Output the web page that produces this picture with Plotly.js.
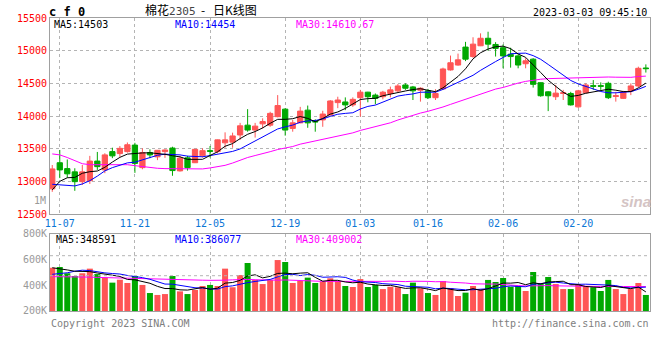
<!DOCTYPE html>
<html><head><meta charset="utf-8">
<script src="https://cdn.plot.ly/plotly-3.0.1.min.js"></script>
<style>html,body{margin:0;padding:0;background:#fff}#chart{width:660px;height:360px}</style>
</head><body><div id="chart"></div>
<script>
// ---- data ----
const dates = ['11-04','11-07','11-08','11-09','11-10','11-11','11-14','11-15','11-16','11-17','11-18','11-21','11-22','11-23','11-24','11-25','11-28','11-29','11-30','12-01','12-02','12-05','12-06','12-07','12-08','12-09','12-12','12-13','12-14','12-15','12-16','12-19','12-20','12-21','12-22','12-23','12-26','12-27','12-28','12-29','12-30','01-03','01-04','01-05','01-06','01-09','01-10','01-11','01-12','01-13','01-16','01-17','01-18','01-19','01-20','01-30','01-31','02-01','02-02','02-03','02-06','02-07','02-08','02-09','02-10','02-13','02-14','02-15','02-16','02-17','02-20','02-21','02-22','02-23','02-24','02-27','02-28','03-01','03-02','03-03'];
const tickDates = ['11-07','11-21','12-05','12-19','01-03','01-16','02-06','02-20'];
const priceTicks = [12500,13000,13500,14000,14500,15000,15500];
const volTicks = [200,400,600,800];
const volTickText = ['200K','400K','600K','800K'];

const open = [12885,13285,13195,13145,12995,13010,13310,13175,13455,13425,13455,13555,13210,13440,13375,13455,13510,13160,13360,13285,13390,13470,13455,13590,13600,13710,13860,13785,13880,13860,13990,14105,13810,13895,14090,13920,13940,14015,14205,14215,14170,14280,14365,14320,14295,14345,14385,14475,14445,14395,14385,14280,14415,14705,14780,15055,14910,15075,15190,15095,15045,14945,14920,14800,14870,14510,14370,14295,14345,14345,14140,14355,14465,14465,14500,14300,14270,14385,14460,14735];
const high = [13250,13480,13335,13200,13250,13390,13450,13430,13515,13540,13595,13590,13505,13490,13480,13490,13530,13390,13390,13495,13505,13540,13640,13750,13745,13895,14105,13895,13965,14065,14320,14120,13940,14140,14160,13950,14080,14245,14295,14285,14285,14400,14370,14345,14385,14450,14490,14500,14460,14440,14415,14410,14740,14925,14955,15135,15205,15265,15290,15130,15095,15045,14945,14885,14885,14515,14380,14475,14400,14370,14400,14500,14550,14515,14525,14370,14385,14500,14755,14790];
const low = [12840,13050,13055,12855,12945,12960,13175,13125,13355,13375,13440,13130,13185,13355,13325,13360,13085,13150,13165,13280,13365,13365,13430,13515,13515,13635,13760,13670,13810,13835,13980,13700,13760,13890,13820,13760,13835,14010,14120,14090,14140,13990,14210,14180,14255,14285,14365,14400,14245,14220,14260,14245,14405,14695,14770,14840,14890,15070,15000,14910,14730,14740,14730,14730,14435,14295,14075,14245,14245,14160,14125,14350,14400,14400,14260,14220,14260,14320,14435,14665];
const close = [13190,13175,13115,12995,13145,13310,13225,13405,13390,13505,13560,13275,13440,13405,13475,13480,13165,13355,13210,13490,13470,13460,13635,13635,13695,13850,13785,13845,13915,14040,14160,13785,13895,14075,13895,13910,14030,14230,14245,14170,14255,14365,14295,14270,14365,14400,14460,14425,14385,14425,14280,14345,14720,14815,14860,14870,15100,15190,15100,15035,14920,14910,14780,14845,14485,14310,14310,14350,14355,14170,14385,14475,14455,14455,14280,14310,14370,14460,14730,14725];

const ma5 = [12870,13000,13055,13060,13124,13148,13158,13215,13295,13367,13417,13428,13435,13437,13431,13414,13392,13375,13336,13339,13337,13396,13452,13537,13578,13654,13720,13762,13818,13888,13949,13949,13959,13992,13963,13913,13962,14029,14062,14116,14186,14252,14266,14271,14310,14338,14357,14383,14405,14418,14394,14372,14431,14517,14605,14723,14874,14968,15025,15060,15069,15031,14949,14898,14788,14666,14547,14461,14363,14300,14315,14348,14368,14387,14410,14395,14374,14375,14430,14503];
const ma10 = [12955,12950,12940,12930,12960,13010,13080,13160,13210,13245,13283,13293,13325,13366,13399,13416,13410,13405,13386,13385,13376,13394,13414,13437,13458,13496,13558,13607,13678,13733,13802,13834,13861,13905,13925,13931,13956,13994,14027,14040,14050,14107,14147,14167,14213,14262,14305,14324,14338,14364,14366,14365,14407,14461,14511,14559,14623,14699,14771,14833,14896,14952,14959,14962,14924,14868,14789,14705,14631,14544,14491,14447,14415,14375,14355,14355,14361,14372,14409,14454];
const ma30 = [13420,13405,13365,13315,13270,13255,13255,13255,13260,13265,13255,13240,13225,13210,13200,13195,13195,13190,13185,13185,13190,13205,13220,13245,13280,13325,13365,13395,13420,13454,13487,13507,13533,13569,13594,13614,13641,13669,13697,13719,13742,13779,13807,13836,13866,13896,13939,13975,14014,14045,14072,14102,14138,14178,14217,14251,14294,14339,14379,14412,14437,14475,14504,14530,14549,14563,14572,14576,14580,14580,14584,14588,14593,14599,14597,14594,14591,14592,14604,14610.67];

const volumeK = [537,543,494,473,494,530,488,460,421,444,418,473,403,340,325,332,473,353,332,364,395,403,395,530,385,480,574,442,410,442,597,582,418,434,460,418,428,455,434,395,387,449,387,403,371,389,385,332,421,377,340,325,434,379,317,343,395,371,442,426,457,389,395,356,504,410,465,410,371,371,410,395,385,356,442,371,332,371,418,325];
const vma5 = [537,530,520,510,508,507,496,489,479,469,446,443,432,416,392,375,375,365,363,371,383,369,378,417,422,439,473,482,458,470,493,495,490,495,498,462,432,439,439,426,420,424,410,404,399,400,387,376,380,381,371,359,379,371,359,360,374,361,374,395,418,417,422,405,420,411,426,429,432,405,405,391,386,383,398,390,377,374,387,348.591];
const vma10 = [486,490,498,510,518,515,505,497,492,488,477,470,460,447,430,410,409,398,389,381,379,372,371,390,396,411,421,430,438,446,466,484,486,476,484,478,463,464,467,462,441,428,425,422,413,410,406,393,392,390,385,373,378,375,370,365,366,370,372,377,389,395,391,389,408,415,422,425,418,413,408,409,408,408,402,398,384,380,385,386.077];
const vma30 = [468,468,467,466,465,464,462,460,458,457,456,456,455,452,450,448,446,444,442,441,440,439,438,440,443,446,446,444,441,438,440,442,439,438,437,433,431,431,431,430,429,428,427,429,431,433,430,429,432,433,431,428,429,424,422,418,412,409,410,410,405,399,398,395,397,397,398,396,394,393,394,392,392,391,393,392,391,392,392,390];

// ---- styling ----
const RED = '#ff5555', GREEN = '#00a800';
const MONO = 'DejaVu Sans Mono, monospace';
const CJK = 'Noto Sans CJK SC, sans-serif';
const GRID = '#b4b4b4', BORDER = '#a0a0a0';
const volColors = close.map((c, i) => c >= open[i] ? RED : GREEN);

function maLine(y, color, xa, ya) {
  return {type:'scatter', mode:'lines', x:dates, y:y, xaxis:xa, yaxis:ya,
          line:{color:color, width:1}, hoverinfo:'skip', showlegend:false};
}

const traces = [
  {type:'candlestick', x:dates, open:open, high:high, low:low, close:close,
   xaxis:'x', yaxis:'y', whiskerwidth:0,
   increasing:{line:{color:RED, width:1}, fillcolor:RED},
   decreasing:{line:{color:GREEN, width:1}, fillcolor:GREEN},
   hoverinfo:'skip', showlegend:false},
  maLine(ma30, '#ff00ff', 'x', 'y'),
  maLine(ma10, '#0000ff', 'x', 'y'),
  maLine(ma5, '#000000', 'x', 'y'),
  {type:'bar', x:dates, y:volumeK, xaxis:'x2', yaxis:'y2', width:0.8,
   marker:{color:volColors, line:{width:0}}, hoverinfo:'skip', showlegend:false},
  maLine(vma30, '#ff00ff', 'x2', 'y2'),
  maLine(vma10, '#0000ff', 'x2', 'y2'),
  maLine(vma5, '#000000', 'x2', 'y2')
];

function ann(text, x, y, xanchor, color, size, family) {
  return {text:text, x:x, y:y, xref:'paper', yref:'paper', xanchor:xanchor, yanchor:'middle',
          showarrow:false, borderpad:0, font:{family:family || MONO, size:size || 10, color:color || '#000'}};
}

const NB = '\u00a0';
const titleText = '棉花<span style="font-family:DejaVu Sans Mono;font-size:11px;color:#444">2305</span>' +
                  NB + NB + '-' + NB + NB + NB + '日K线图';

const layout = {
  width:660, height:360,
  margin:{l:50, r:10, t:18, b:49},
  paper_bgcolor:'#ffffff', plot_bgcolor:'#ffffff',
  showlegend:false, boxgap:0.3, boxgroupgap:0, bargap:0.2,
  xaxis:{type:'category', domain:[0,1], anchor:'y', range:[-0.3,79.55],
         tickvals:tickDates, ticktext:tickDates, ticks:'',
         showgrid:true, gridcolor:GRID, griddash:'dot', gridwidth:1,
         showline:true, mirror:true, linecolor:BORDER, linewidth:1, zeroline:false,
         tickfont:{family:MONO, size:10, color:'#0a76d6'},
         rangeslider:{visible:false}, fixedrange:true},
  yaxis:{domain:[0.331,1], anchor:'x', range:[12500,15500],
         tickvals:priceTicks, ticktext:priceTicks.map(String), ticks:'',
         showgrid:true, gridcolor:GRID, griddash:'dot', gridwidth:1,
         showline:true, mirror:true, linecolor:BORDER, linewidth:1, zeroline:false,
         tickfont:{family:MONO, size:10, color:'#ff0000'}, fixedrange:true},
  xaxis2:{type:'category', domain:[0,1], anchor:'y2', range:[-0.3,79.55],
         tickvals:tickDates, showticklabels:false, ticks:'',
         showgrid:true, gridcolor:GRID, griddash:'dot', gridwidth:1,
         showline:true, mirror:true, linecolor:BORDER, linewidth:1, zeroline:false,
         rangeslider:{visible:false}, fixedrange:true},
  yaxis2:{domain:[0,0.2628], anchor:'x2', range:[200,800],
         tickvals:volTicks, ticktext:volTickText, ticks:'', showgrid:false,
         showline:true, mirror:true, linecolor:BORDER, linewidth:1, zeroline:false,
         tickfont:{family:MONO, size:10, color:'#999999'}, fixedrange:true},
  shapes:[
    {type:'line', xref:'paper', x0:0, x1:1, yref:'y2', y0:631, y1:631, line:{color:GRID, width:1, dash:'dot'}},
    {type:'line', xref:'paper', x0:0, x1:1, yref:'y2', y0:475, y1:475, line:{color:GRID, width:1, dash:'dot'}}
  ],
  annotations:[
    ann('<b>c f 0</b>', -0.0033, 1.0205, 'left', '#000', 12),
    ann(titleText, 0.2517, 1.0295, 'center', '#000', 12, CJK),
    ann('2023-03-03 09:45:10', 0.9967, 1.0188, 'right', '#000', 10),
    ann('MA5:14503', 0.005, 0.9795, 'left', '#000000'),
    ann('MA10:14454', 0.2067, 0.9795, 'left', '#0000ff'),
    ann('MA30:14610.67', 0.4083, 0.9795, 'left', '#ff00ff'),
    ann('MA5:348591', 0.0078, 0.2447, 'left', '#000000'),
    ann('MA10:386077', 0.2067, 0.2447, 'left', '#0000ff'),
    ann('MA30:409002', 0.4083, 0.2447, 'left', '#ff00ff'),
    ann('1M', -0.0055, 0.377, 'right', '#999999'),
    ann('Copyright 2023 SINA.COM', 0, -0.0427, 'left', '#808080'),
    ann('http://finance.sina.com.cn', 1, -0.0427, 'right', '#808080'),
    ann('<b><i>sina</i></b>', 0.976, 0.375, 'center', '#d4c4c4', 15, 'Liberation Sans, sans-serif')
  ]
};

Plotly.newPlot('chart', traces, layout, {staticPlot:true, displayModeBar:false});
</script>
</body></html>
